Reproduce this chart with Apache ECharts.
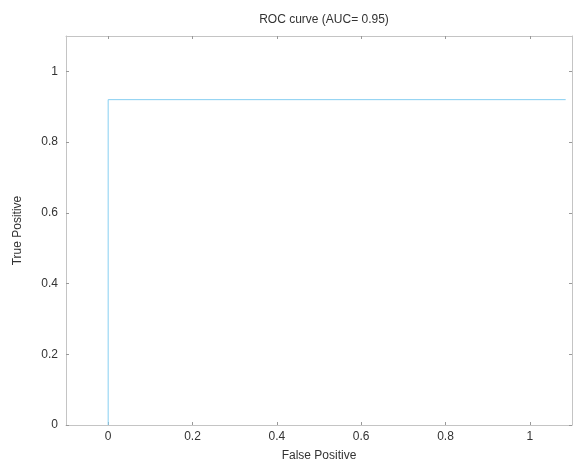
<!DOCTYPE html>
<html>
<head>
<meta charset="utf-8">
<script src="https://cdn.jsdelivr.net/npm/echarts@6/dist/echarts.min.js"></script>
<style>
  html, body { margin: 0; padding: 0; background: #fff; }
  #main { width: 577px; height: 467px; }
</style>
</head>
<body>
<div id="main"></div>
<script>
// ROC curve points (false positive, true positive)
var fpr = [0, 0, 1.085];
var tpr = [0, 0.92, 0.92];
var xTicks = [0, 0.2, 0.4, 0.6, 0.8, 1];
var yTicks = [0, 0.2, 0.4, 0.6, 0.8, 1];

var chartDom = document.getElementById('main');
var myChart = echarts.init(chartDom);

var axisColor = '#c4c4c4';
var textColor = '#333';
var font = 'Liberation Sans, Arial, sans-serif';

var points = fpr.map(function (x, i) { return [x, tpr[i]]; });

var option = {
    animation: false,
    backgroundColor: '#fff',
    title: {
        text: 'ROC curve (AUC= 0.95)',
        left: 319,
        top: 9,
        textAlign: 'center',
        textStyle: { fontSize: 12, fontWeight: 'normal', color: textColor, fontFamily: font }
    },
    grid: { left: 66, right: 5, top: 36, bottom: 39 },
    xAxis: [{
        type: 'value',
        min: -0.1,
        max: 1.1,
        name: 'False Positive',
        nameLocation: 'middle',
        nameGap: 25,
        nameTextStyle: { fontSize: 12, color: textColor, fontFamily: font },
        axisLine: { show: true, onZero: false, lineStyle: { color: axisColor } },
        axisTick: { show: true, inside: true, length: 3, customValues: xTicks, lineStyle: { color: '#999' } },
        axisLabel: { customValues: xTicks, fontSize: 12, color: textColor, fontFamily: font, margin: 6 },
        splitLine: { show: false }
    }, {
        type: 'value',
        position: 'top',
        min: -0.1,
        max: 1.1,
        axisLine: { show: true, onZero: false, lineStyle: { color: axisColor } },
        axisTick: { show: true, inside: true, length: 3, customValues: xTicks, lineStyle: { color: '#999' } },
        axisLabel: { show: false },
        splitLine: { show: false }
    }],
    yAxis: [{
        type: 'value',
        min: 0,
        max: 1.1,
        name: 'True Positive',
        nameLocation: 'middle',
        nameGap: 42,
        nameTextStyle: { fontSize: 12, color: textColor, fontFamily: font },
        axisLine: { show: true, onZero: false, lineStyle: { color: axisColor } },
        axisTick: { show: true, inside: true, length: 3, customValues: yTicks, lineStyle: { color: '#999' } },
        axisLabel: { customValues: yTicks, fontSize: 12, color: textColor, fontFamily: font, margin: 8 },
        splitLine: { show: false }
    }, {
        type: 'value',
        position: 'right',
        min: 0,
        max: 1.1,
        axisLine: { show: true, onZero: false, lineStyle: { color: axisColor } },
        axisTick: { show: true, inside: true, length: 3, customValues: yTicks, lineStyle: { color: '#999' } },
        axisLabel: { show: false },
        splitLine: { show: false }
    }],
    series: [{
        type: 'line',
        data: points,
        showSymbol: false,
        lineStyle: { color: '#86cff2', width: 1 },
        itemStyle: { color: '#86cff2' }
    }]
};

option && myChart.setOption(option);
</script>
</body>
</html>
